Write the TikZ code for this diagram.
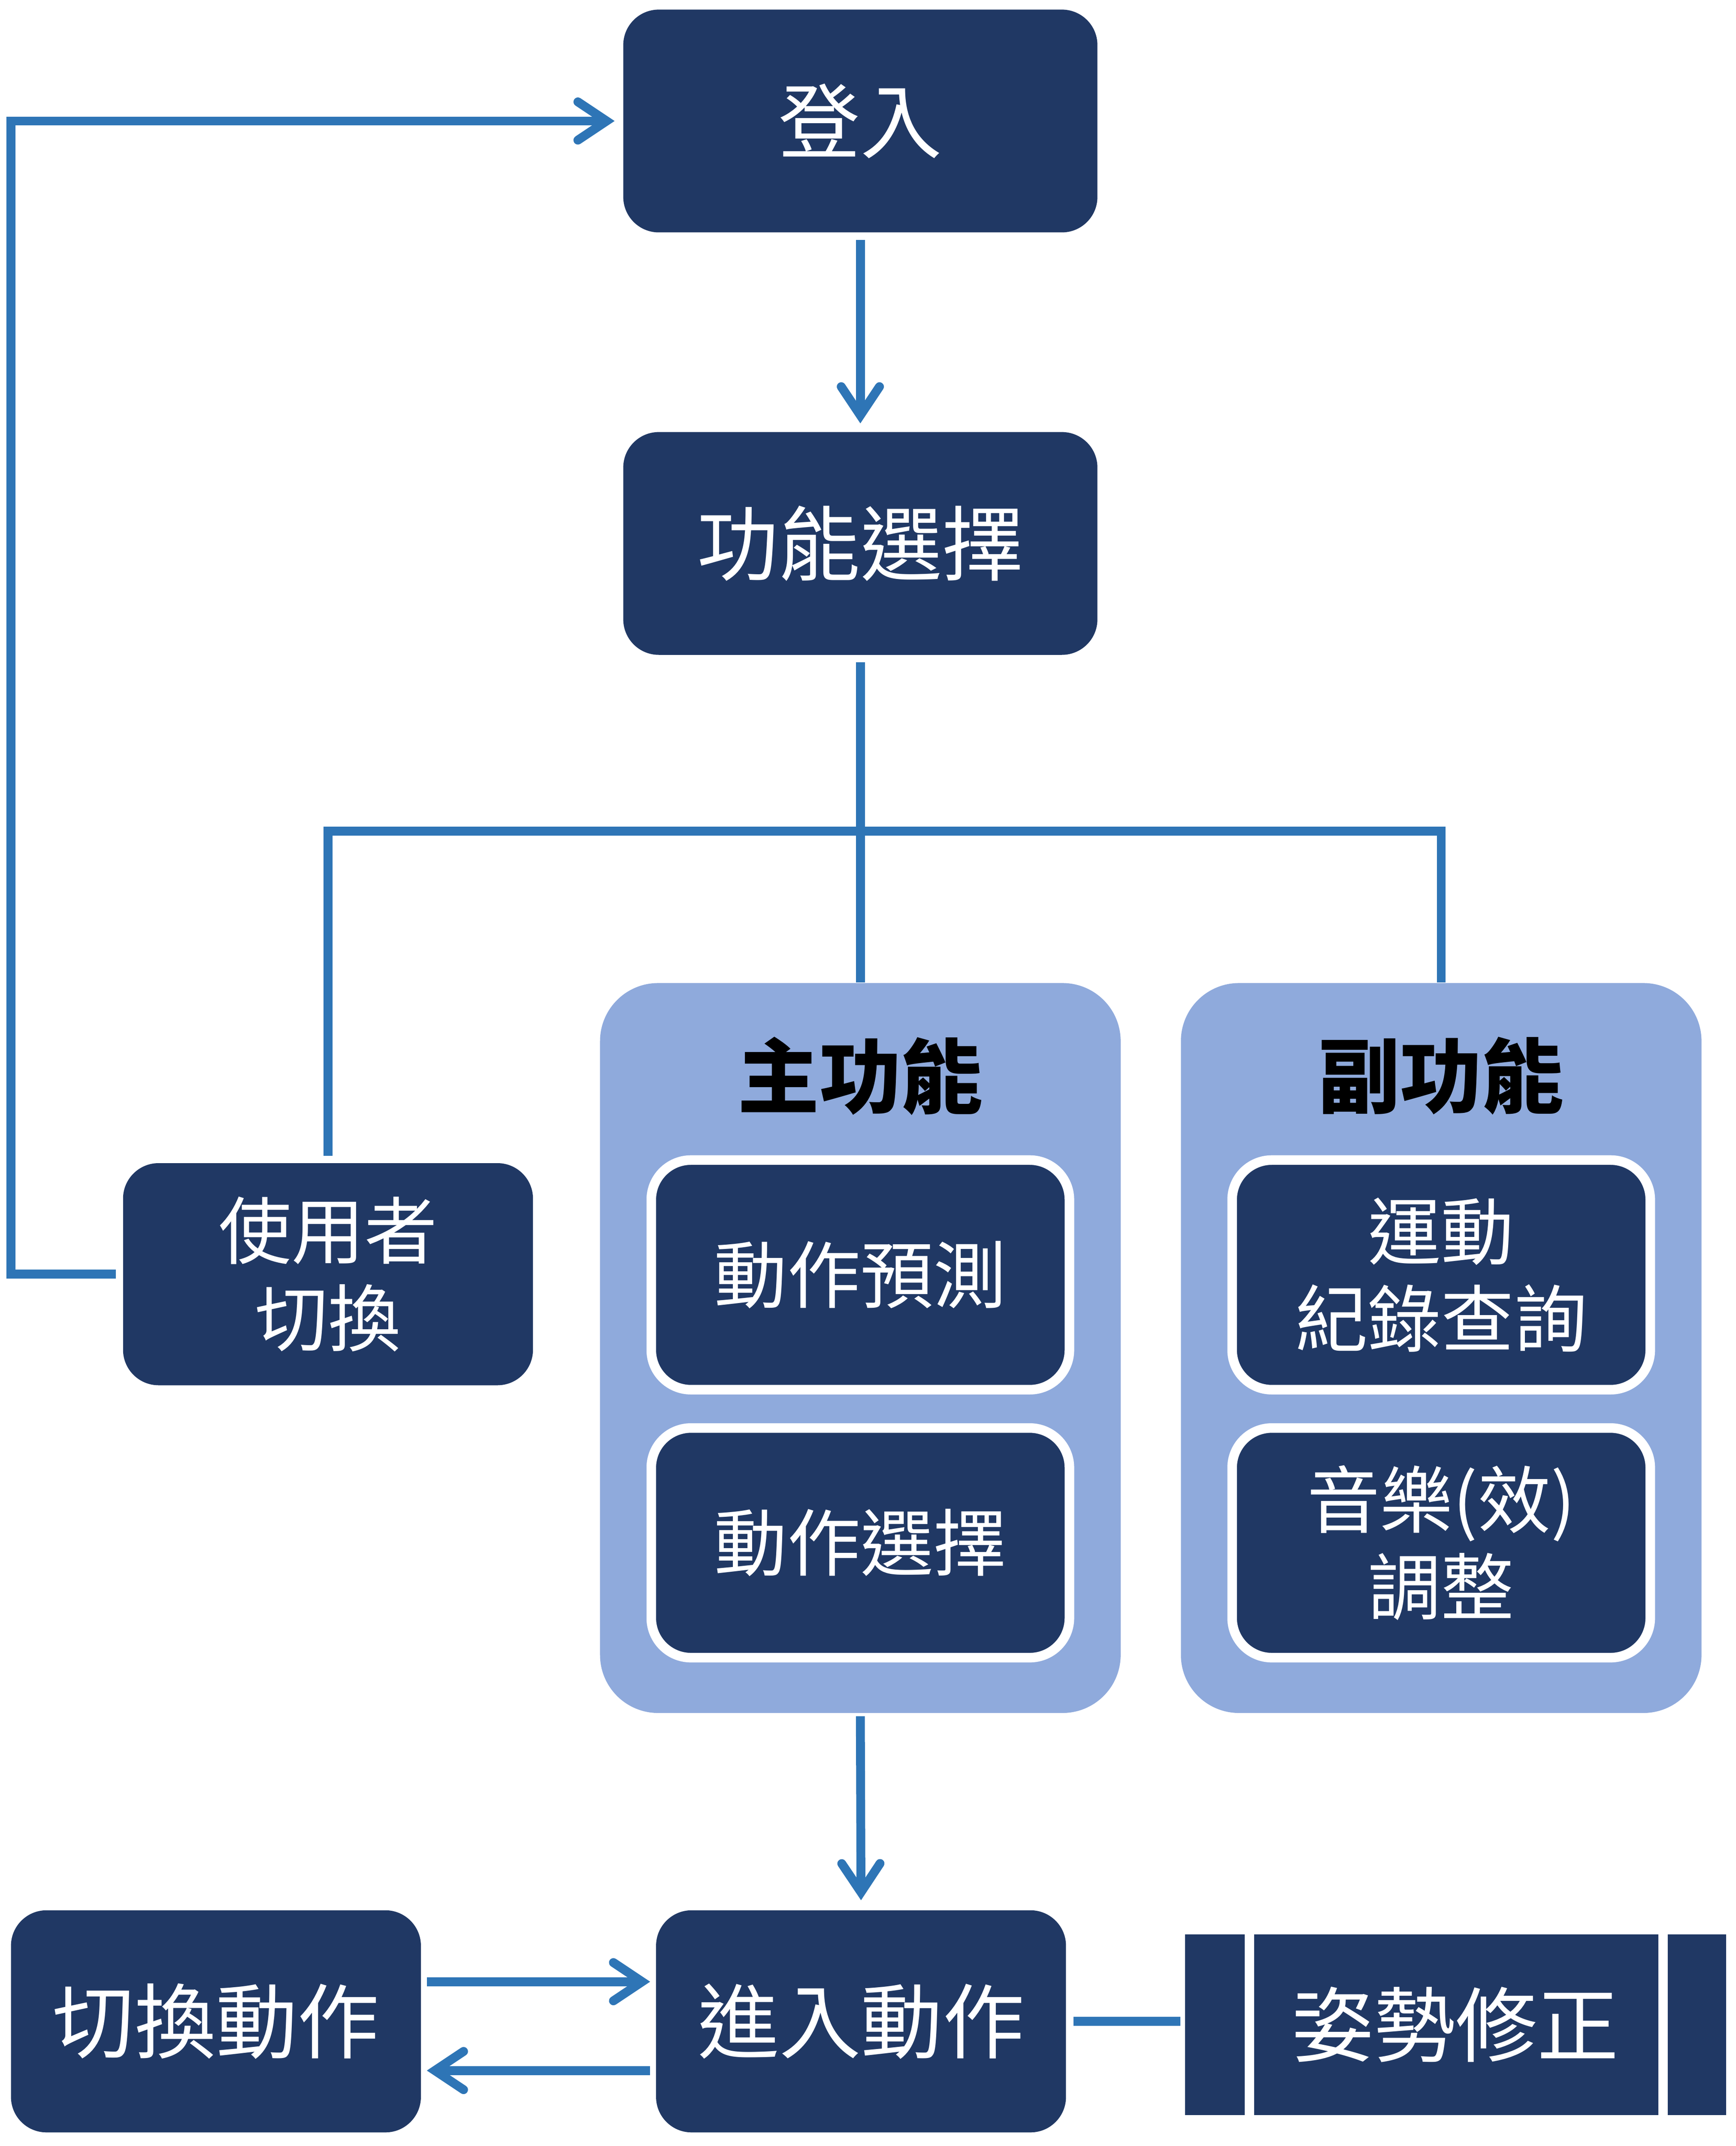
\documentclass[tikz,border=0pt]{standalone}
\usepackage{fontspec}
\newfontfamily\cjk{Noto Sans CJK TC}
\usetikzlibrary{arrows.meta}
\definecolor{navy}{RGB}{32,56,100}
\definecolor{flowblue}{RGB}{46,117,182}
\definecolor{groupblue}{RGB}{143,170,220}

\begin{document}
\begin{tikzpicture}[x=0.02cm, y=-0.02cm,
		every node/.style={font=\cjk\fontsize{34}{37}\selectfont, align=center, inner sep=0pt},
		box/.style={fill=navy, text=white, rounded corners=0.52cm, minimum width=6.94cm, minimum height=3.26cm},
		smallbox/.style={box, minimum width=6cm, minimum height=3.25cm},
		inbox/.style={box, draw=white, line width=0.14cm, rounded corners=0.58cm, minimum width=6.12cm, minimum height=3.36cm},
		smalltext/.style={font=\cjk\fontsize{30.4}{36.4}\selectfont},
		group/.style={fill=groupblue, rounded corners=0.85cm, minimum width=7.62cm, minimum height=10.68cm},
		title/.style={font=\cjk\bfseries\fontsize{34}{37}\selectfont},
		link/.style={flowblue, line width=0.13cm},
		arrow/.style={link, -{Straight Barb[length=0.42cm, width=0.56cm, line cap=round]}}]
	\useasboundingbox (0,0) rectangle (1270,1569.7);

	% top of the flow
	\node[box] (login) at (629.5,88.5) {登入};
	\node[box] (func) at (629.5,397.5) {功能選擇};
	\node[smallbox, smalltext] (user) at (240,932) {使用者\\切換};

	% the two groups
	\node[group] (main) at (629.5,986) {};
	\node[group] (sub) at (1054.5,986) {};
	\node[title] (maintitle) at (629.5,787) {主功能};
	\node[title] (subtitle) at (1054.5,787) {副功能};
	\node[inbox, smalltext] (predict) at (629.5,932.5) {動作預測};
	\node[inbox, smalltext] (choose) at (629.5,1128.5) {動作選擇};
	\node[inbox, smalltext] (record) at (1054.5,932.5) {運動\\紀錄查詢};
	\node[inbox, smalltext] (music) at (1054.5,1128.5) {音樂(效)\\調整};

	% bottom row
	\node[smallbox] (enter) at (630,1478.5) {進入動作};
	\node[smallbox] (switch) at (158,1478.5) {切換動作};
	\node[fill=navy, text=white, minimum width=7.92cm, minimum height=2.64cm] (posture) at (1065,1481) {姿勢修正};
	\foreach \s/\a in {0.95cm/west, -0.93cm/east}
		\draw[white, line width=0.14cm] ([xshift=\s]posture.north \a) -- ([xshift=\s]posture.south \a);

	\coordinate (fork) at (629.5,608);
	\coordinate (back) at (8,932);

	\draw[arrow] ([yshift=-0.1cm]login.south) -- ([yshift=0.12cm]func.north);
	\draw[link] ([yshift=-0.1cm]func.south) -- (main.north);
	\draw[link] ([yshift=0.1cm]user.north) |- (fork) -| (sub.north);
	\draw[arrow] ([xshift=-0.1cm]user.west) -- (back) |- ([xshift=-0.12cm]login.west);
	\draw[arrow] ([yshift=-0.04cm]main.south) -- ([yshift=0.14cm]enter.north);
	\draw[arrow] ([xshift=0.08cm,yshift=0.58cm]switch.east) -- ([xshift=-0.08cm,yshift=0.58cm]enter.west);
	\draw[arrow] ([xshift=-0.08cm,yshift=-0.72cm]enter.west) -- ([xshift=0.08cm,yshift=-0.72cm]switch.east);
	\draw[link, shorten <=0.1cm, shorten >=0.06cm] (enter.east) -- (enter.east -| posture.west);
\end{tikzpicture}
\end{document}
